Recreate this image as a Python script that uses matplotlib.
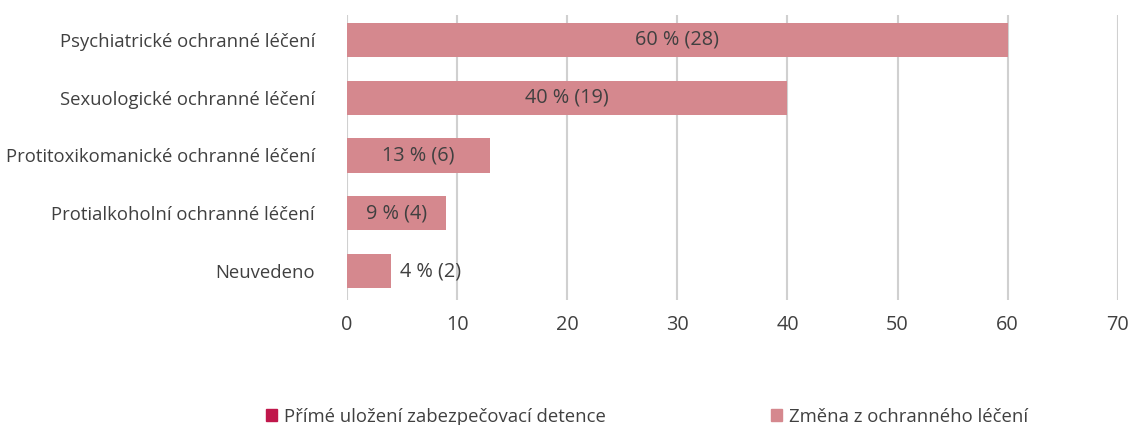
import matplotlib.pyplot as plt
from matplotlib.patches import Patch

plt.rcParams['font.family'] = ['Open Sans', 'DejaVu Sans']

categories = ['Psychiatrické ochranné léčení', 'Sexuologické ochranné léčení',
              'Protitoxikomanické ochranné léčení', 'Protialkoholní ochranné léčení',
              'Neuvedeno']
prime = [0, 0, 0, 0, 0]
zmena = [60, 40, 13, 9, 4]
counts = [28, 19, 6, 4, 2]
series_names = ['Přímé uložení zabezpečovací detence', 'Změna z ochranného léčení']
colors = ['#c0174b', '#d5888e']
txt = '#404040'

fig = plt.figure(figsize=(11.32, 4.25), dpi=100)
ax = fig.add_axes([0.3065, 0.294, 0.681, 0.671])

pos = list(range(len(categories)))
ax.barh(pos, prime, height=0.59, color=colors[0], linewidth=0)
bars = ax.barh(pos, zmena, height=0.59, color=colors[1], linewidth=0, zorder=2)

for b, v, c in zip(bars, zmena, counts):
    label = f'{v} % ({c})'
    y = b.get_y() + b.get_height() / 2
    if v >= 8:
        ax.text(v / 2, y, label, ha='center', va='center', fontsize=14.3, color=txt, zorder=3)
    else:
        ax.text(v + 0.8, y, label, ha='left', va='center', fontsize=14.3, color=txt, zorder=3)

ax.set_xlim(0, 70)
ax.set_ylim(4.5, -0.43)
ax.set_xticks(range(0, 71, 10))
ax.set_yticks(pos)
ax.set_yticklabels(categories)
ax.grid(axis='x', color='#d0d0d0', linewidth=1.5, zorder=0)
ax.set_axisbelow(True)
for s in ax.spines.values():
    s.set_visible(False)
ax.tick_params(axis='both', length=0, colors=txt)
ax.tick_params(axis='y', pad=23, labelsize=13.3)
ax.tick_params(axis='x', pad=11, labelsize=14.3)

handles = [Patch(color=colors[0]), Patch(color=colors[1])]
fig.legend(handles, series_names, loc='center', bbox_to_anchor=(0.5716, 0.02),
           ncol=2, frameon=False, fontsize=13.3, labelcolor=txt,
           handlelength=0.6, handleheight=0.6, handletextpad=0.4, columnspacing=8.9)

fig.savefig('out.png', dpi=100)
